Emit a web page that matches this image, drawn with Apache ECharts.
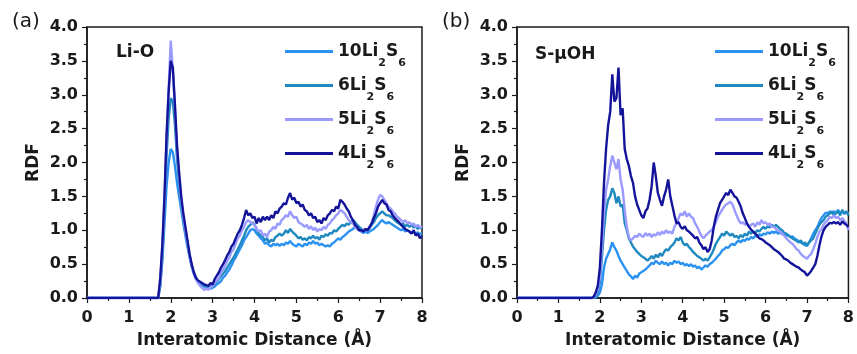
<!DOCTYPE html>
<html>
<head>
<meta charset="utf-8">
<script src="https://cdn.jsdelivr.net/npm/echarts@6/dist/echarts.min.js"></script>
<style>
  html, body { margin: 0; padding: 0; background: #fff; }
  #chart { width: 857px; height: 354px; }
</style>
</head>
<body>
<div id="chart"></div>
<script>
// sample grid: 0, then 1.70 .. 8.00 every 0.05 A
const distance = [0];
for (let i = 0; i <= 126; i++) distance.push(+(1.7 + i * 0.05).toFixed(2));

const seriesNames = ["10Li2S6", "6Li2S6", "5Li2S6", "4Li2S6"];
const seriesColors = ["#2b92f2", "#1f8ac0", "#9a9aff", "#14149a"];

// panel (a) Li-O
const liO_10 = [0,
  0, 0.18, 0.55, 1.10, 1.65, 2.00, 2.20, 2.15, 1.95, 1.70,
  1.50, 1.30, 1.10, 0.92, 0.75, 0.60, 0.46, 0.36, 0.28, 0.24,
  0.20, 0.18, 0.17, 0.15, 0.16, 0.14, 0.15, 0.17, 0.20, 0.22,
  0.25, 0.30, 0.33, 0.38, 0.42, 0.48, 0.55, 0.60, 0.66, 0.72,
  0.78, 0.85, 0.90, 0.95, 1.00, 1.02, 1.00, 0.95, 0.92, 0.88,
  0.85, 0.80, 0.82, 0.78, 0.76, 0.80, 0.78, 0.80, 0.77, 0.80,
  0.78, 0.82, 0.80, 0.84, 0.80, 0.78, 0.76, 0.80, 0.78, 0.76,
  0.80, 0.78, 0.82, 0.80, 0.84, 0.80, 0.82, 0.78, 0.80, 0.78,
  0.76, 0.78, 0.76, 0.80, 0.82, 0.85, 0.88, 0.86, 0.90, 0.92,
  0.95, 0.98, 1.00, 1.02, 1.05, 1.02, 1.00, 0.98, 0.96, 0.98,
  0.96, 0.98, 1.00, 1.02, 1.05, 1.08, 1.12, 1.15, 1.12, 1.10,
  1.12, 1.10, 1.08, 1.06, 1.04, 1.02, 1.00, 1.02, 0.98, 1.00,
  0.98, 0.96, 0.98, 0.95, 0.97, 0.94, 0.96];
const liO_6 = [0,
  0, 0.20, 0.65, 1.30, 2.10, 2.65, 2.95, 2.90, 2.55, 2.05,
  1.70, 1.40, 1.18, 0.98, 0.80, 0.62, 0.48, 0.38, 0.30, 0.25,
  0.22, 0.20, 0.18, 0.17, 0.16, 0.18, 0.17, 0.20, 0.24, 0.28,
  0.32, 0.36, 0.40, 0.45, 0.50, 0.55, 0.60, 0.66, 0.72, 0.78,
  0.85, 0.92, 1.00, 1.05, 1.08, 1.12, 1.08, 1.02, 0.95, 0.92,
  0.90, 0.85, 0.88, 0.82, 0.86, 0.84, 0.90, 0.92, 0.95, 0.92,
  0.95, 1.00, 0.96, 1.02, 0.98, 0.95, 0.92, 0.88, 0.90, 0.86,
  0.88, 0.85, 0.90, 0.88, 0.92, 0.88, 0.90, 0.86, 0.92, 0.90,
  0.94, 0.92, 0.96, 0.95, 1.00, 0.98, 1.02, 1.05, 1.08, 1.06,
  1.10, 1.08, 1.12, 1.15, 1.12, 1.08, 1.05, 1.02, 1.00, 1.02,
  1.00, 1.03, 1.08, 1.12, 1.18, 1.22, 1.25, 1.28, 1.25, 1.22,
  1.22, 1.20, 1.18, 1.15, 1.12, 1.10, 1.08, 1.10, 1.06, 1.08,
  1.05, 1.08, 1.04, 1.06, 1.02, 1.05, 1.02];
const liO_5 = [0,
  0, 0.25, 0.75, 1.45, 2.35, 3.10, 3.80, 3.35, 2.80, 2.20,
  1.80, 1.45, 1.20, 1.00, 0.80, 0.62, 0.48, 0.36, 0.28, 0.22,
  0.18, 0.15, 0.12, 0.14, 0.12, 0.16, 0.18, 0.22, 0.26, 0.30,
  0.38, 0.42, 0.48, 0.55, 0.60, 0.68, 0.72, 0.80, 0.88, 0.92,
  1.00, 1.05, 1.12, 1.15, 1.12, 1.10, 1.08, 1.02, 0.98, 1.00,
  0.92, 0.95, 0.90, 0.98, 1.00, 1.05, 1.02, 1.10, 1.08, 1.15,
  1.18, 1.22, 1.20, 1.28, 1.22, 1.18, 1.20, 1.12, 1.10, 1.08,
  1.05, 1.08, 1.02, 1.06, 1.00, 1.04, 0.98, 1.02, 1.00, 1.05,
  1.02, 1.08, 1.10, 1.15, 1.18, 1.22, 1.25, 1.30, 1.28, 1.25,
  1.20, 1.15, 1.12, 1.10, 1.05, 1.02, 1.00, 0.98, 1.00, 1.02,
  1.00, 1.05, 1.12, 1.22, 1.35, 1.45, 1.52, 1.50, 1.45, 1.40,
  1.35, 1.32, 1.28, 1.25, 1.20, 1.18, 1.15, 1.12, 1.15, 1.10,
  1.12, 1.08, 1.10, 1.05, 1.08, 1.04, 1.06];
const liO_4 = [0,
  0, 0.30, 0.80, 1.50, 2.40, 3.05, 3.50, 3.40, 2.85, 2.25,
  1.85, 1.50, 1.25, 1.05, 0.85, 0.65, 0.50, 0.38, 0.30, 0.26,
  0.24, 0.22, 0.20, 0.19, 0.18, 0.22, 0.20, 0.28, 0.33, 0.38,
  0.45, 0.50, 0.56, 0.63, 0.68, 0.76, 0.80, 0.88, 0.95, 1.00,
  1.08, 1.18, 1.30, 1.22, 1.25, 1.18, 1.20, 1.10, 1.18, 1.12,
  1.20, 1.15, 1.20, 1.15, 1.22, 1.18, 1.28, 1.25, 1.32, 1.35,
  1.40, 1.38, 1.48, 1.55, 1.45, 1.48, 1.40, 1.42, 1.35, 1.38,
  1.30, 1.28, 1.22, 1.25, 1.18, 1.20, 1.12, 1.15, 1.10, 1.18,
  1.15, 1.22, 1.25, 1.30, 1.28, 1.35, 1.32, 1.45, 1.42, 1.38,
  1.32, 1.28, 1.20, 1.15, 1.08, 1.05, 1.00, 1.00, 0.98, 1.02,
  1.00, 1.05, 1.10, 1.18, 1.25, 1.35, 1.40, 1.45, 1.40, 1.38,
  1.30, 1.28, 1.22, 1.18, 1.15, 1.12, 1.08, 1.05, 1.02, 1.00,
  0.98, 0.95, 1.00, 0.92, 0.95, 0.88, 0.92];

// panel (b) S-uOH
const sOH_10 = [0,
  0, 0, 0, 0, 0.01, 0.03, 0.08, 0.20, 0.45, 0.58,
  0.65, 0.72, 0.82, 0.75, 0.70, 0.62, 0.55, 0.50, 0.45, 0.40,
  0.35, 0.32, 0.28, 0.33, 0.30, 0.36, 0.38, 0.40, 0.42, 0.45,
  0.48, 0.52, 0.50, 0.55, 0.52, 0.50, 0.54, 0.50, 0.52, 0.48,
  0.52, 0.50, 0.55, 0.52, 0.54, 0.50, 0.52, 0.48, 0.50, 0.47,
  0.50, 0.46, 0.48, 0.44, 0.46, 0.42, 0.45, 0.48, 0.46, 0.50,
  0.52, 0.55, 0.58, 0.62, 0.65, 0.70, 0.72, 0.75, 0.74, 0.78,
  0.80, 0.78, 0.82, 0.85, 0.82, 0.86, 0.84, 0.88, 0.86, 0.90,
  0.88, 0.92, 0.90, 0.94, 0.92, 0.95, 0.94, 0.97, 0.95, 0.98,
  0.96, 0.98, 0.95, 0.97, 0.94, 0.95, 0.92, 0.93, 0.90, 0.91,
  0.88, 0.86, 0.84, 0.82, 0.80, 0.78, 0.77, 0.82, 0.88, 0.95,
  1.00, 1.05, 1.12, 1.18, 1.22, 1.26, 1.25, 1.28, 1.25, 1.28,
  1.26, 1.30, 1.25, 1.28, 1.24, 1.27, 1.25];
const sOH_6 = [0,
  0, 0, 0, 0, 0.03, 0.08, 0.22, 0.60, 1.00, 1.30,
  1.45, 1.50, 1.62, 1.55, 1.40, 1.50, 1.35, 1.38, 1.10, 1.00,
  0.88, 0.82, 0.76, 0.72, 0.68, 0.65, 0.62, 0.60, 0.58, 0.55,
  0.58, 0.62, 0.58, 0.64, 0.60, 0.66, 0.62, 0.68, 0.72, 0.70,
  0.75, 0.78, 0.82, 0.88, 0.85, 0.90, 0.82, 0.78, 0.80, 0.75,
  0.72, 0.68, 0.65, 0.62, 0.60, 0.58, 0.55, 0.58, 0.55, 0.60,
  0.65, 0.72, 0.80, 0.85, 0.90, 0.95, 0.92, 0.98, 0.95, 0.92,
  0.95, 0.90, 0.92, 0.88, 0.93, 0.90, 0.95, 0.92, 0.98, 0.95,
  0.98, 0.96, 1.00, 0.98, 1.02, 1.05, 1.02, 1.06, 1.04, 1.08,
  1.05, 1.08, 1.05, 1.02, 1.00, 0.96, 0.95, 0.92, 0.90, 0.88,
  0.86, 0.84, 0.82, 0.85, 0.80, 0.82, 0.78, 0.82, 0.85, 0.88,
  0.95, 1.02, 1.08, 1.12, 1.15, 1.20, 1.22, 1.25, 1.28, 1.22,
  1.25, 1.28, 1.22, 1.30, 1.25, 1.28, 1.22];
const sOH_5 = [0,
  0, 0, 0, 0.01, 0.05, 0.12, 0.30, 0.75, 1.25, 1.60,
  1.75, 1.95, 2.10, 2.00, 1.90, 2.05, 1.75, 1.60, 1.30, 1.05,
  0.90, 0.85, 0.88, 0.92, 0.90, 0.95, 0.92, 0.90, 0.96, 0.92,
  0.95, 0.90, 0.94, 0.92, 0.97, 0.93, 0.98, 0.95, 1.00, 0.96,
  0.98, 0.95, 1.05, 1.10, 1.18, 1.25, 1.22, 1.28, 1.20, 1.25,
  1.20, 1.18, 1.10, 1.05, 0.98, 0.92, 0.88, 0.92, 0.95, 0.98,
  1.00, 1.05, 1.12, 1.20, 1.25, 1.30, 1.35, 1.38, 1.40, 1.42,
  1.38, 1.30, 1.22, 1.15, 1.10, 1.12, 1.08, 1.10, 1.05, 1.08,
  1.10, 1.05, 1.12, 1.08, 1.15, 1.10, 1.12, 1.08, 1.10, 1.05,
  1.05, 1.02, 1.00, 0.98, 0.95, 0.92, 0.88, 0.85, 0.82, 0.80,
  0.76, 0.72, 0.70, 0.65, 0.62, 0.60, 0.58, 0.62, 0.65, 0.72,
  0.80, 0.90, 0.98, 1.02, 1.08, 1.12, 1.15, 1.20, 1.18, 1.22,
  1.18, 1.20, 1.15, 1.18, 1.14, 1.10, 1.00];
const sOH_4 = [0,
  0, 0, 0, 0.02, 0.08, 0.18, 0.45, 1.00, 1.70, 2.20,
  2.55, 2.75, 3.30, 2.90, 2.95, 3.40, 2.70, 2.80, 2.20, 2.05,
  1.95, 1.80, 1.70, 1.50, 1.38, 1.30, 1.22, 1.18, 1.28, 1.32,
  1.45, 1.65, 2.00, 1.80, 1.55, 1.45, 1.36, 1.50, 1.60, 1.75,
  1.50, 1.36, 1.22, 1.10, 1.12, 1.05, 1.02, 1.06, 1.00, 0.98,
  0.95, 0.92, 0.88, 0.90, 0.82, 0.78, 0.72, 0.75, 0.68, 0.72,
  0.85, 1.05, 1.20, 1.30, 1.40, 1.45, 1.50, 1.55, 1.52, 1.60,
  1.55, 1.50, 1.48, 1.42, 1.35, 1.25, 1.18, 1.10, 1.05, 1.01,
  0.98, 0.95, 0.92, 0.88, 0.87, 0.85, 0.82, 0.80, 0.78, 0.75,
  0.72, 0.70, 0.68, 0.65, 0.62, 0.58, 0.57, 0.55, 0.52, 0.50,
  0.48, 0.46, 0.45, 0.42, 0.40, 0.38, 0.33, 0.36, 0.40, 0.45,
  0.50, 0.62, 0.78, 0.91, 1.00, 1.05, 1.08, 1.11, 1.10, 1.12,
  1.10, 1.12, 1.08, 1.13, 1.10, 1.08, 1.05];

const panelA = [liO_10, liO_6, liO_5, liO_4];
const panelB = [sOH_10, sOH_6, sOH_5, sOH_4];

const font = "DejaVu Sans";
const ink = "#1a1a1a";

const chart = echarts.init(document.getElementById("chart"));

const makeX = (gridIndex) => ({
  type: "value",
  gridIndex,
  min: 0,
  max: 8,
  interval: 1,
  name: "Interatomic Distance (\u00c5)",
  nameLocation: "middle",
  nameGap: 34,
  nameTextStyle: { fontFamily: font, fontWeight: "bold", fontSize: 17, color: ink },
  axisLine: { lineStyle: { color: ink, width: 1.5 } },
  axisTick: { length: 5, lineStyle: { color: ink, width: 1.2 } },
  minorTick: { show: true, splitNumber: 2, length: 3, lineStyle: { color: ink, width: 1.2 } },
  splitLine: { show: false },
  axisLabel: { margin: 12, fontFamily: font, fontWeight: "bold", fontSize: 16, color: ink },
});

const makeY = (gridIndex) => ({
  type: "value",
  gridIndex,
  min: 0,
  max: 4,
  interval: 0.5,
  name: "RDF",
  nameLocation: "middle",
  nameGap: 45,
  nameTextStyle: { fontFamily: font, fontWeight: "bold", fontSize: 17, color: ink },
  axisLine: { show: true, lineStyle: { color: ink, width: 1.5 } },
  axisTick: { length: 5, lineStyle: { color: ink, width: 1.2 } },
  minorTick: { show: true, splitNumber: 2, length: 3, lineStyle: { color: ink, width: 1.2 } },
  splitLine: { show: false },
  axisLabel: {
    margin: 9,
    fontFamily: font,
    fontWeight: "bold",
    fontSize: 16,
    color: ink,
    formatter: (v) => v.toFixed(1),
  },
});

const legendLabel = (name) => {
  const n = name.match(/^(\d+)Li2S6$/)[1];
  return `{n|${n}Li}{s|2}{n|S}{s|6}`;
};

const makeLegend = (left) => ({
  left,
  top: 29,
  orient: "vertical",
  selectedMode: false,
  icon: "rect",
  itemWidth: 48,
  itemHeight: 3,
  itemGap: -1,
  data: seriesNames,
  formatter: legendLabel,
  textStyle: {
    color: ink,
    rich: {
      n: { fontFamily: font, fontWeight: "bold", fontSize: 17, lineHeight: 20 },
      s: { fontFamily: font, fontWeight: "bold", fontSize: 11, lineHeight: 2, padding: [24, 0, 0, 0] },
    },
  },
});

const makeSeries = (values, gridIndex) =>
  values.map((ys, k) => ({
    name: seriesNames[k],
    type: "line",
    xAxisIndex: gridIndex,
    yAxisIndex: gridIndex,
    showSymbol: false,
    symbol: "none",
    silent: true,
    color: seriesColors[k],
    lineStyle: { width: 2.4, color: seriesColors[k] },
    data: ys.map((y, i) => [distance[i], y]),
  }));

const option = {
  backgroundColor: "#fff",
  animation: false,
  title: [
    { text: "(a)", left: 7, top: 7, textStyle: { fontFamily: font, fontWeight: "normal", fontSize: 20, color: ink } },
    { text: "(b)", left: 437, top: 7, textStyle: { fontFamily: font, fontWeight: "normal", fontSize: 20, color: ink } },
    { text: "Li-O", left: 111, top: 39, textStyle: { fontFamily: font, fontWeight: "bold", fontSize: 17, color: ink } },
    { text: "S-\u03bcOH", left: 530, top: 41, textStyle: { fontFamily: font, fontWeight: "bold", fontSize: 17, color: ink } },
  ],
  grid: [
    { left: 87, top: 27, width: 335, height: 273, show: true, borderColor: ink, borderWidth: 1.5 },
    { left: 517, top: 27, width: 335, height: 272, show: true, borderColor: ink, borderWidth: 1.5 },
  ],
  legend: [makeLegend(280), makeLegend(710)],
  xAxis: [makeX(0), makeX(1)],
  yAxis: [makeY(0), makeY(1)],
  series: [...makeSeries(panelA, 0), ...makeSeries(panelB, 1)],
};

chart.setOption(option);
</script>
</body>
</html>
